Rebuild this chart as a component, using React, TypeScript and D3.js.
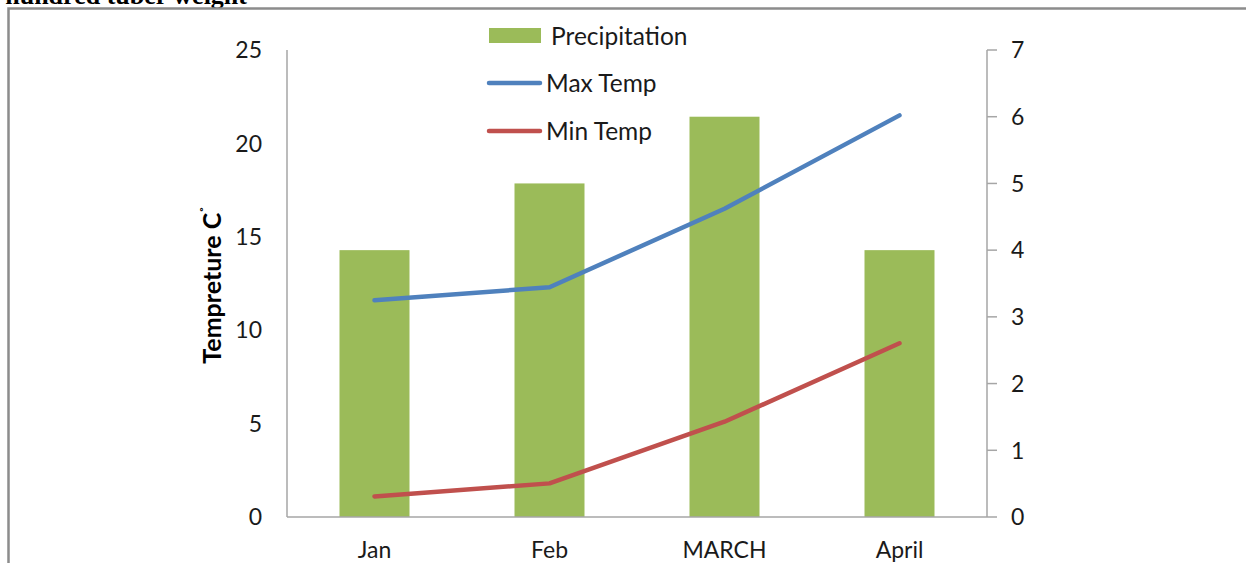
import React from "react";
import * as d3 from "d3";

// Monthly climate data
const months = ["Jan", "Feb", "MARCH", "April"];
const precipitation = [4, 5, 6, 4];
const maxTemp = [11.6, 12.3, 16.5, 21.5];
const minTemp = [1.1, 1.8, 5.1, 9.3];
const leftTicks = [0, 5, 10, 15, 20, 25];
const rightTicks = [0, 1, 2, 3, 4, 5, 6, 7];

const W = 1246;
const H = 563;
const plot = { left: 287, right: 987, top: 50, bottom: 517 };
const FONT = "Lato, 'Open Sans', sans-serif";
const GREEN = "#9BBB59";
const BLUE = "#4F81BD";
const RED = "#C0504D";
const AXIS = "#a6a6a6";

export default function App() {
  const x = d3.scaleBand<string>().domain(months).range([plot.left, plot.right]).padding(0);
  const yLeft = d3.scaleLinear().domain([0, 25]).range([plot.bottom, plot.top]);
  const yRight = d3.scaleLinear().domain([0, 7]).range([plot.bottom, plot.top]);
  const bw = x.bandwidth() * 0.4;
  const cx = (m: string) => (x(m) as number) + x.bandwidth() / 2;

  const line = d3
    .line<number>()
    .x((_, i) => cx(months[i]))
    .y((d) => yLeft(d));

  return (
    <div style={{ position: "absolute", left: 0, top: 0 }}>
      <svg width={W} height={H} style={{ display: "block", background: "#fff" }}>
        {/* caption running above the figure frame */}
        <text
          x={247}
          y={4}
          textAnchor="end"
          fontFamily="'Liberation Serif', 'Times New Roman', serif"
          fontWeight="bold"
          fontSize={26}
          fill="#000"
        >
          hundred tuber weight
        </text>

        {/* figure frame */}
        <path d={`M8.5,${H + 5} V8.5 H${W + 5}`} fill="none" stroke="#8c8c8c" strokeWidth={2.5} />

        {/* precipitation bars on the right axis */}
        {months.map((m, i) => (
          <rect
            key={m}
            x={cx(m) - bw / 2}
            y={yRight(precipitation[i])}
            width={bw}
            height={plot.bottom - yRight(precipitation[i])}
            fill={GREEN}
          />
        ))}

        {/* axes */}
        <line x1={plot.left} x2={plot.left} y1={plot.top} y2={plot.bottom} stroke={AXIS} strokeWidth={1.5} />
        <line x1={plot.right} x2={plot.right} y1={plot.top} y2={plot.bottom} stroke={AXIS} strokeWidth={1.5} />
        <line x1={plot.left} x2={plot.right} y1={plot.bottom} y2={plot.bottom} stroke={AXIS} strokeWidth={1.5} />
        {rightTicks.map((t) => (
          <line
            key={"rt" + t}
            x1={plot.right}
            x2={plot.right + 10}
            y1={yRight(t)}
            y2={yRight(t)}
            stroke={AXIS}
            strokeWidth={1.5}
          />
        ))}

        {/* temperature lines */}
        <path d={line(maxTemp) || ""} fill="none" stroke={BLUE} strokeWidth={4.5} strokeLinecap="round" strokeLinejoin="round" />
        <path d={line(minTemp) || ""} fill="none" stroke={RED} strokeWidth={4.5} strokeLinecap="round" strokeLinejoin="round" />

        {/* tick labels */}
        {leftTicks.map((t) => (
          <text
            key={"lt" + t}
            x={262}
            y={yLeft(t)}
            dy="0.36em"
            textAnchor="end"
            fontFamily={FONT}
            fontSize={23}
            fill="#1a1a1a"
          >
            {t}
          </text>
        ))}
        {rightTicks.map((t) => (
          <text
            key={"rl" + t}
            x={1011}
            y={yRight(t)}
            dy="0.36em"
            textAnchor="start"
            fontFamily={FONT}
            fontSize={23}
            fill="#1a1a1a"
          >
            {t}
          </text>
        ))}
        {months.map((m) => (
          <text key={"xl" + m} x={cx(m)} y={558} textAnchor="middle" fontFamily={FONT} fontSize={23} fill="#1a1a1a">
            {m}
          </text>
        ))}

        {/* left axis title */}
        <text
          transform={`translate(221,${285}) rotate(-90)`}
          textAnchor="middle"
          fontFamily={FONT}
          fontWeight="bold"
          fontSize={25}
          fill="#000"
        >
          Tempreture C<tspan dy="-9" fontSize={16}>˚</tspan>
        </text>

        {/* legend */}
        <rect x={489} y={28} width={52} height={15} fill={GREEN} />
        <text x={551} y={36} dy="0.36em" fontFamily={FONT} fontSize={24.5} fill="#1a1a1a">
          Precipitation
        </text>
        <line x1={489} x2={540} y1={83} y2={83} stroke={BLUE} strokeWidth={4.5} strokeLinecap="round" />
        <text x={546} y={83} dy="0.36em" fontFamily={FONT} fontSize={24.5} fill="#1a1a1a">
          Max Temp
        </text>
        <line x1={489} x2={540} y1={131} y2={131} stroke={RED} strokeWidth={4.5} strokeLinecap="round" />
        <text x={546} y={131} dy="0.36em" fontFamily={FONT} fontSize={24.5} fill="#1a1a1a">
          Min Temp
        </text>
      </svg>
    </div>
  );
}
